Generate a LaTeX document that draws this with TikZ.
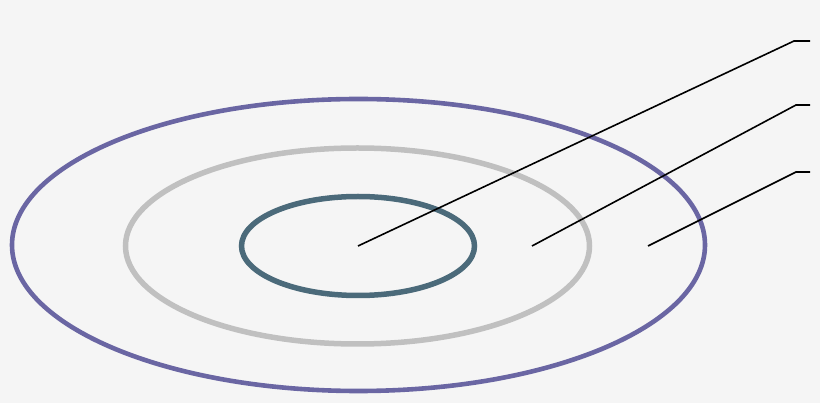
\documentclass[tikz,border=0pt]{standalone}
\definecolor{bgc}{HTML}{F5F5F5}
\definecolor{outerc}{HTML}{6A66A3}
\definecolor{midc}{HTML}{C0C0C0}
\definecolor{innerc}{HTML}{4B6A7A}
\begin{document}
\begin{tikzpicture}[x=1pt,y=-1pt,
  ring/.style={line width=#1},
  leader/.style={draw=black,line width=1.6pt}]
\fill[bgc] (0,0) rectangle (820,403);
\useasboundingbox (0,0) rectangle (820,403);
\draw[outerc,ring=4.6pt] (358.5,245) ellipse [x radius=346.5, y radius=146];
\draw[midc,ring=5.5pt] (357.5,246) ellipse [x radius=232, y radius=98];
\draw[innerc,ring=5.5pt] (358,246) ellipse [x radius=116.5, y radius=49.5];
\coordinate (p1) at (358,246);
\coordinate (p2) at (532,246);
\coordinate (p3) at (648,246);
\coordinate (k1) at (794,41);
\coordinate (k2) at (796,105);
\coordinate (k3) at (796,172);
\coordinate (e1) at (810,41);
\coordinate (e2) at (810,105);
\coordinate (e3) at (810,172);
\draw[leader] (p1) -- (k1) -- (e1);
\draw[leader] (p2) -- (k2) -- (e2);
\draw[leader] (p3) -- (k3) -- (e3);
\end{tikzpicture}
\end{document}
